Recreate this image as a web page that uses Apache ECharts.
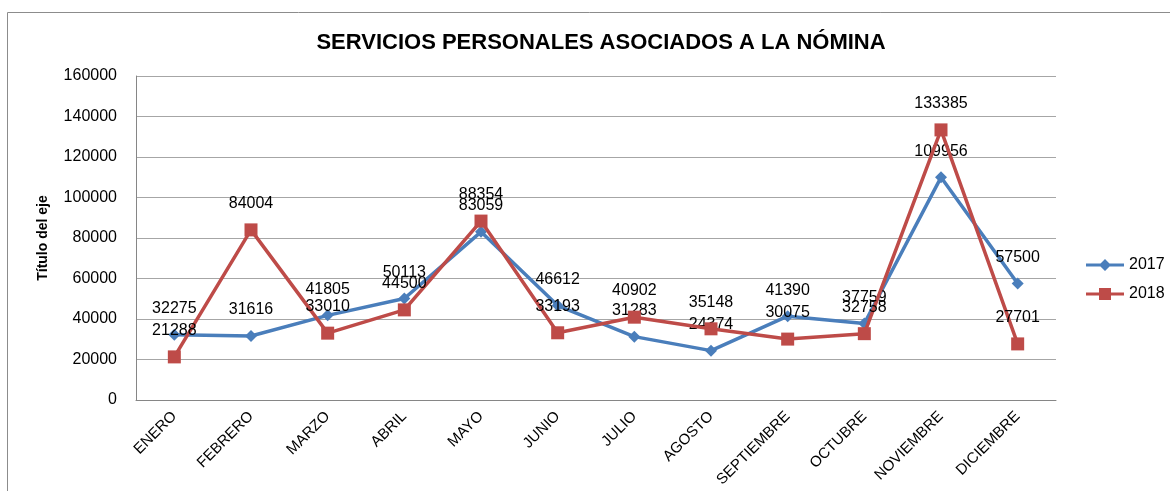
<!DOCTYPE html>
<html>
<head>
<meta charset="utf-8">
<script src="https://cdn.jsdelivr.net/npm/echarts@6/dist/echarts.min.js"></script>
<style>
  html,body{margin:0;padding:0;background:#fff}
  #chart{width:1170px;height:491px}
</style>
</head>
<body>
<div id="chart"></div>
<script>
// data
const months = ['ENERO','FEBRERO','MARZO','ABRIL','MAYO','JUNIO','JULIO','AGOSTO','SEPTIEMBRE','OCTUBRE','NOVIEMBRE','DICIEMBRE'];
const values2017 = [32275, 31616, 41805, 50113, 83059, 46612, 31283, 24374, 41390, 37759, 109956, 57500];
const values2018 = [21288, 84004, 33010, 44500, 88354, 33193, 40902, 35148, 30075, 32758, 133385, 27701];
const yTicks = [0, 20000, 40000, 60000, 80000, 100000, 120000, 140000, 160000];

const font = '"Liberation Sans", Arial, sans-serif';
const blue = '#4A7EBB', red = '#BE4B48';

// legend icons: a line with the marker in the middle, like the spreadsheet legend
const iconDiamond = 'path://M0,4.5L38,4.5L38,7.5L0,7.5Z M19,0L25,6L19,12L13,6Z';
const iconSquare  = 'path://M0,4.5L38,4.5L38,7.5L0,7.5Z M13,0L25,0L25,12L13,12Z';

const chart = echarts.init(document.getElementById('chart'), null, {renderer:'canvas'});

function lineSeries(name, data, color, symbol, size){
  return {
    name, type:'line', data,
    symbol, symbolSize: size,
    lineStyle:{color, width:3.5},
    itemStyle:{color},
    label:{show:true, position:'top', distance:12, color:'#000', fontFamily:font, fontSize:16},
    z: name==='2018' ? 3 : 2
  };
}

chart.setOption({
  animation:false,
  textStyle:{fontFamily:font},
  graphic:[{
    type:'rect', shape:{x:7.5, y:12.5, width:1200, height:500},
    style:{fill:'none', stroke:'#8c8c8c', lineWidth:1}
  }],
  title:{
    text:'SERVICIOS PERSONALES ASOCIADOS A LA NÓMINA',
    left:596, top:27, textAlign:'center',
    textStyle:{fontFamily:font, fontSize:22, fontWeight:'bold', color:'#000'}
  },
  legend:{
    orient:'vertical', left:1081, top:252, itemGap:13,
    itemWidth:38, itemHeight:12,
    textStyle:{fontFamily:font, fontSize:16, color:'#000'},
    data:[{name:'2017', icon:iconDiamond}, {name:'2018', icon:iconSquare}]
  },
  grid:{left:136, right:114, top:76, bottom:91},
  xAxis:{
    type:'category', data:months, boundaryGap:true,
    axisLine:{lineStyle:{color:'#868686'}},
    axisTick:{show:false},
    axisLabel:{rotate:45, interval:0, margin:14, color:'#000', fontFamily:font, fontSize:15}
  },
  yAxis:{
    type:'value', min:yTicks[0], max:yTicks[yTicks.length-1], interval:20000,
    name:'Título del eje', nameLocation:'middle', nameGap:86, nameRotate:90,
    nameTextStyle:{fontFamily:font, fontSize:14, fontWeight:'bold', color:'#000'},
    axisLine:{show:true, lineStyle:{color:'#868686'}},
    axisTick:{show:false},
    splitLine:{lineStyle:{color:'#a6a6a6'}},
    axisLabel:{margin:19, color:'#000', fontFamily:font, fontSize:16, formatter: v => String(v)}
  },
  series:[
    lineSeries('2017', values2017, blue, 'diamond', 12),
    lineSeries('2018', values2018, red, 'rect', 13)
  ]
});
</script>
</body>
</html>
